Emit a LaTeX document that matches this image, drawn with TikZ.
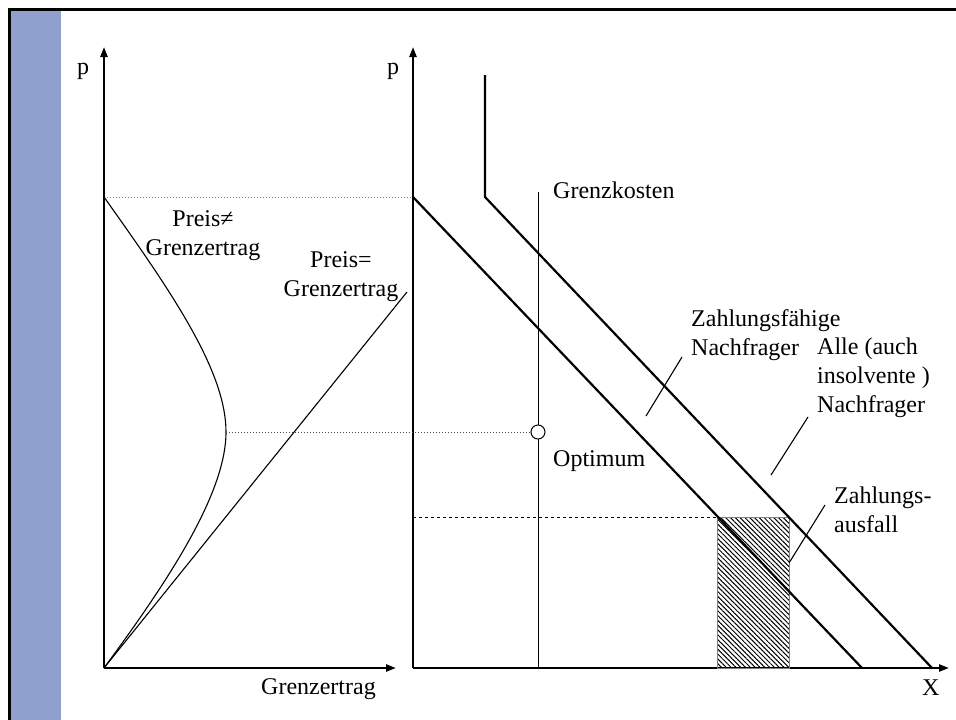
\documentclass[tikz,border=0pt]{standalone}
\usepackage{fontspec}
\setmainfont{Liberation Serif}
\usepackage{tikz}
\usetikzlibrary{arrows.meta, patterns.meta}
\definecolor{slidebar}{RGB}{143,160,204}

\begin{document}
\begin{tikzpicture}[x=1pt, y=-1pt, >={Triangle[length=10pt, width=7pt]},
  axis/.style={line width=2.2pt, ->},
  demand/.style={line width=2.2pt},
  fine/.style={line width=1.1pt},
  lbl/.style={font=\fontsize{24}{29}\selectfont, inner sep=0pt}]

  \useasboundingbox (0,0) rectangle (956,720);

  % --- slide frame -----------------------------------------------------------
  \fill[slidebar] (9,9) rectangle (61,720);
  \draw[line width=3pt] (9,720) -- (9,9) -- (956,9);

  % --- axes ------------------------------------------------------------------
  \coordinate (O1) at (104,668);
  \coordinate (O2) at (413,668);
  \coordinate (p1) at (104,47);
  \coordinate (p2) at (413,47);
  \coordinate (g1) at (396,668);
  \coordinate (x2) at (949,668);
  \draw[axis] (O1) -- (p1);
  \draw[axis] (O1) -- (g1);
  \draw[axis] (O2) -- (p2);
  \draw[axis] (O2) -- (x2);
  \node[lbl, anchor=base west] (pl) at (77,74) {p};
  \node[lbl, anchor=base west] (pr) at (387,74) {p};
  \node[lbl, anchor=base west] (gl) at (261,694) {Grenzertrag};
  \node[lbl, anchor=base west] (xl) at (922,695) {X};

  % --- left panel: price vs. marginal revenue ---------------------------------
  \coordinate (top1) at (104,197);
  \coordinate (top2) at (413,197);
  \coordinate (apex) at (226,432);
  \coordinate (eqend) at (407,292);
  \draw[gray, dotted, line width=1pt] (top1) -- (top2);
  \draw[fine] (top1) .. controls (170,290) and (226,370) .. (apex)
                     .. controls (226,495) and (165,585) .. (O1);
  \draw[fine] (O1) -- (eqend);
  \node[lbl, align=center, anchor=north] (neq) at (203,210.6) {Preis≠\\Grenzertrag};
  \node[lbl, align=center, anchor=north] (eq) at (341,251.6) {Preis=\\Grenzertrag};

  % --- right panel: demand curves and marginal cost ---------------------------
  \coordinate (kink) at (485,197);
  \coordinate (kinktop) at (485,75);
  \coordinate (end1) at (862,668);
  \coordinate (end2) at (932,668);
  \coordinate (mctop) at (538,192);
  \coordinate (mcbot) at (538,668);
  \coordinate (hl) at (717,517);
  \coordinate (hr) at (789,668);
  \coordinate (pdash) at (413,517);

  \draw[gray, line width=0.8pt, pattern={Lines[angle=-45, distance=3.4pt, line width=1pt]}]
    (hl) rectangle (hr);
  \draw[dashed, line width=0.8pt] (pdash) -- (hl);
  \draw[demand] (top2) -- (end1);
  \draw[demand] (kinktop) -- (kink) -- (end2);
  \draw[line width=0.9pt] (mctop) -- (mcbot);
  \node[circle, draw, line width=1pt, fill=white, minimum size=14pt, inner sep=0pt] (opt) at (538,432) {};
  \draw[gray!60!black, dotted, line width=1pt] (apex) -- (opt.west);

  \node[lbl, anchor=base west] (mc) at (553,198) {Grenzkosten};
  \node[lbl, anchor=base west] (optl) at (553,466) {Optimum};
  \node[lbl, align=left, anchor=north west] (solv) at (691,309.6) {Zahlungsfähige\\Nachfrager};
  \node[lbl, align=left, anchor=north west] (all) at (817,337.3) {Alle (auch\\insolvente )\\Nachfrager};
  \node[lbl, align=left, anchor=north west] (loss) at (834,486.6) {Zahlungs-\\ausfall};

  % --- leaders ---------------------------------------------------------------
  \coordinate (solvtip) at (646,416);
  \coordinate (solvfoot) at (682,357);
  \coordinate (alltip) at (771,475);
  \coordinate (allfoot) at (808,417);
  \coordinate (losstip) at (789,563);
  \coordinate (lossfoot) at (825,505);
  \draw[fine] (solvfoot) -- (solvtip);
  \draw[fine] (allfoot) -- (alltip);
  \draw[fine] (lossfoot) -- (losstip);

\end{tikzpicture}
\end{document}
